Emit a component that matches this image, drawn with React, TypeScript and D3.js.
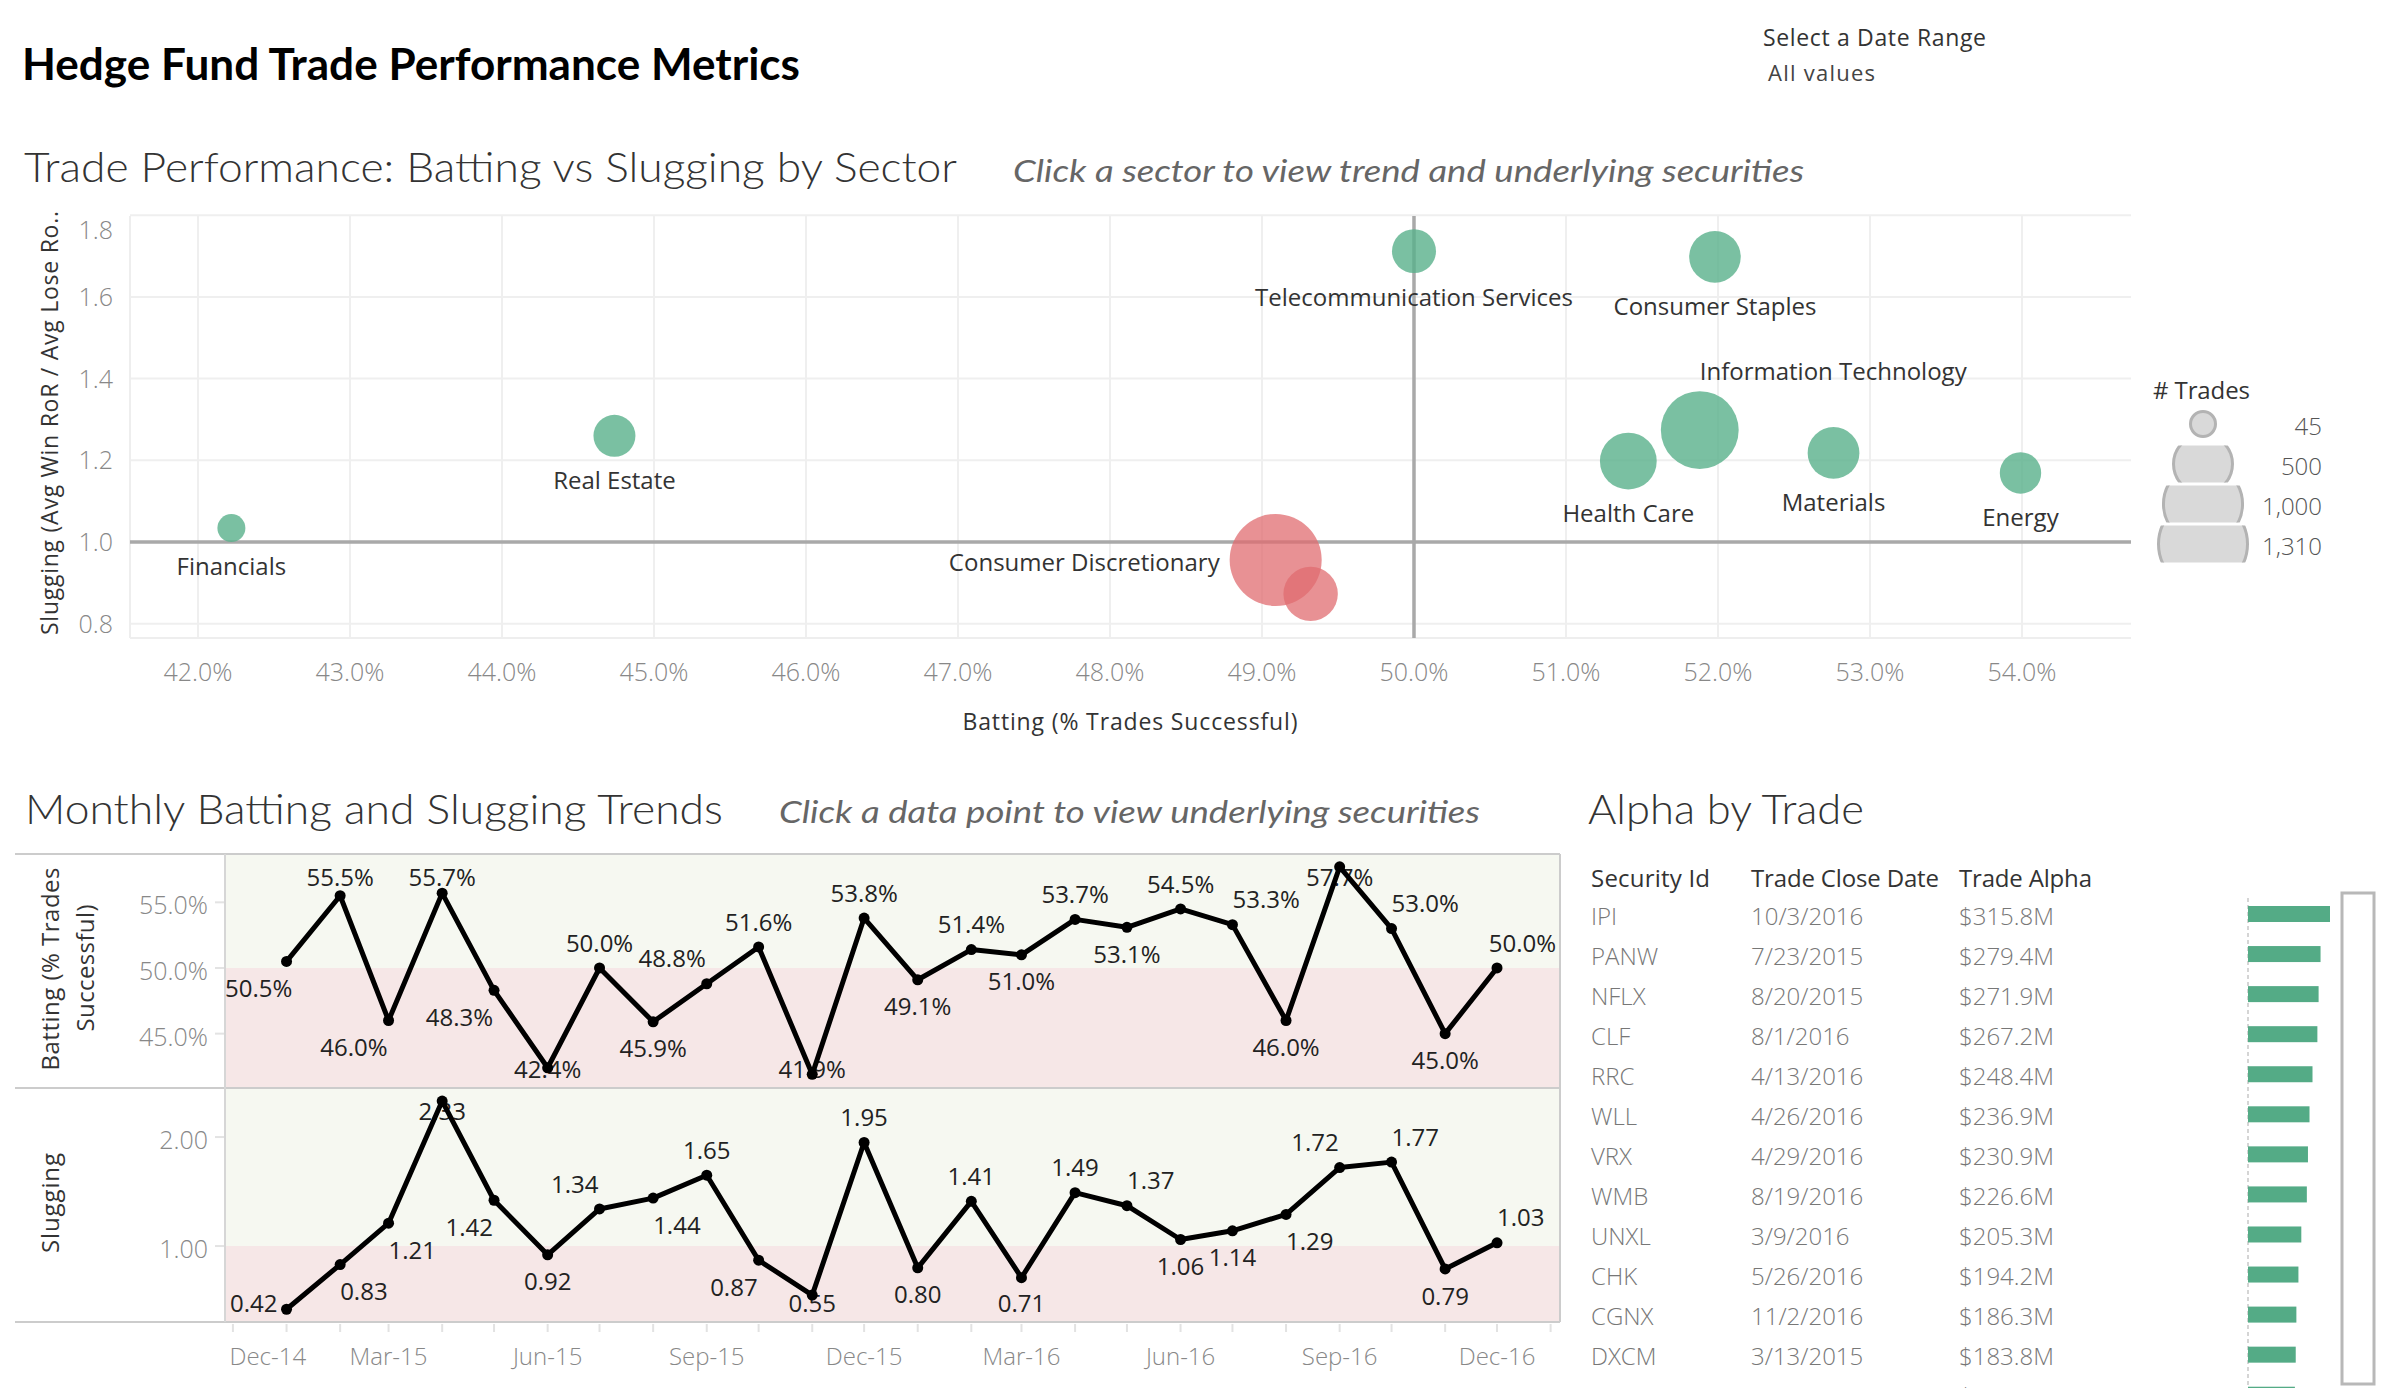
import React from 'react';
import * as d3 from 'd3';

// ---------------- DATA ----------------
const sectorNames = ['Financials', 'Real Estate', 'Telecommunication Services', 'Consumer Discretionary', 'Industrials', 'Consumer Staples', 'Information Technology', 'Health Care', 'Materials', 'Energy'];
const sectorBatting = [42.22, 44.74, 50.0, 49.09, 49.32, 51.98, 51.88, 51.41, 52.76, 53.99];
const sectorSlugging = [1.034, 1.26, 1.712, 0.956, 0.873, 1.698, 1.274, 1.198, 1.218, 1.169];
const sectorTrades = [45, 173, 198, 1310, 356, 309, 880, 399, 312, 166];
const sectorLabelPlacement = ['below', 'below', 'below', 'left', 'none', 'below', 'above-right', 'below', 'below', 'below'];

const battingTicks = [42, 43, 44, 45, 46, 47, 48, 49, 50, 51, 52, 53, 54];
const sluggingTicks = [0.8, 1.0, 1.2, 1.4, 1.6, 1.8];
const legendTrades = [45, 500, 1000, 1310];

const trendMonths = ['2015-01', '2015-02', '2015-03', '2015-04', '2015-05', '2015-06', '2015-07', '2015-08', '2015-09', '2015-10', '2015-11', '2015-12',
  '2016-01', '2016-02', '2016-03', '2016-04', '2016-05', '2016-06', '2016-07', '2016-08', '2016-09', '2016-10', '2016-11', '2016-12'];
const monthlyBatting = [50.5, 55.5, 46.0, 55.7, 48.3, 42.4, 50.0, 45.9, 48.8, 51.6, 41.9, 53.8, 49.1, 51.4, 51.0, 53.7, 53.1, 54.5, 53.3, 46.0, 57.7, 53.0, 45.0, 50.0];
const monthlySlugging = [0.42, 0.83, 1.21, 2.33, 1.42, 0.92, 1.34, 1.44, 1.65, 0.87, 0.55, 1.95, 0.80, 1.41, 0.71, 1.49, 1.37, 1.06, 1.14, 1.29, 1.72, 1.77, 0.79, 1.03];
const battingLabelPlacement = ['bl', 't', 'bl', 't', 'bl', 'b', 't', 'b', 'tl', 't', 'b', 't', 'b', 't', 'b', 't', 'b', 't', 'tr', 'b', 't', 'tr', 'b', 'tr'];
const sluggingLabelPlacement = ['bl', 'br', 'br', 't', 'bl', 'b', 'tl', 'br', 't', 'bl', 'b', 't', 'b', 't', 'b', 't', 'tr', 'b', 'b', 'br', 'tl', 'tr', 'b', 'tr'];
const battingAxisTicks = [45, 50, 55];
const sluggingAxisTicks = [1, 2];

const securityIds = ['IPI', 'PANW', 'NFLX', 'CLF', 'RRC', 'WLL', 'VRX', 'WMB', 'UNXL', 'CHK', 'CGNX', 'DXCM', 'T'];
const closeDates = ['10/3/2016', '7/23/2015', '8/20/2015', '8/1/2016', '4/13/2016', '4/26/2016', '4/29/2016', '8/19/2016', '3/9/2016', '5/26/2016', '11/2/2016', '3/13/2015', '3/4/2015'];
const tradeAlpha = [315.8, 279.4, 271.9, 267.2, 248.4, 236.9, 230.9, 226.6, 205.3, 194.2, 186.3, 183.8, 180.6];

// ---------------- STYLE ----------------
const FONT = "'Open Sans', 'Noto Sans', 'DejaVu Sans', sans-serif";
const TFONT = "Lato, 'Open Sans', sans-serif";
const GREEN = '#59b08b';
const RED = '#e06c70';

let _ctx: CanvasRenderingContext2D | null = null;
function textWidth(t: string, size: number, weight = 400, family = FONT) {
  if (!_ctx) _ctx = document.createElement('canvas').getContext('2d');
  if (!_ctx) return t.length * size * 0.55;
  _ctx.font = `${weight} ${size}px ${family}`;
  return _ctx.measureText(t).width;
}

function Scatter() {
  const x = d3.scaleLinear().domain([41.553, 54.717]).range([130, 2131]);
  const y = d3.scaleLinear().domain([0.765, 1.798]).range([638, 216]);
  const r = d3.scaleSqrt().domain([45, 1310]).range([14, 46]);
  const pts = sectorNames.map((n, i) => ({ name: n, bx: sectorBatting[i], sy: sectorSlugging[i], n: sectorTrades[i], place: sectorLabelPlacement[i] }));
  const drawOrder = [...pts].sort((a, b) => b.n - a.n);
  const pct = d3.format('.1f');
  return (
    <g>
      {battingTicks.map(t => <line key={'vx' + t} x1={x(t)} x2={x(t)} y1={216} y2={638} stroke="#efefef" strokeWidth={2} />)}
      {sluggingTicks.map(t => <line key={'hy' + t} x1={130} x2={2131} y1={y(t)} y2={y(t)} stroke="#efefef" strokeWidth={2} />)}
      <line x1={130} x2={130} y1={216} y2={638} stroke="#eeeeee" strokeWidth={2} />
      <line x1={130} x2={2131} y1={638} y2={638} stroke="#eeeeee" strokeWidth={2} />
      <line x1={130} x2={2131} y1={y(1)} y2={y(1)} stroke="#a9a9a9" strokeWidth={3.5} />
      <line x1={x(50)} x2={x(50)} y1={216} y2={638} stroke="#a9a9a9" strokeWidth={3.5} />
      {battingTicks.map(t => (
        <text key={'xl' + t} x={x(t)} y={672} dy="0.36em" textAnchor="middle" fontSize={25} fill="#888" fontFamily={FONT} fontWeight={300}>{pct(t)}%</text>
      ))}
      {sluggingTicks.map(t => (
        <text key={'yl' + t} x={113} y={Math.max(230, y(t))} dy="0.36em" textAnchor="end" fontSize={25} fill="#888" fontFamily={FONT} fontWeight={300}>{t.toFixed(1)}</text>
      ))}
      {drawOrder.map(p => (
        <circle key={p.name} cx={x(p.bx)} cy={y(p.sy)} r={r(p.n)} fill={p.sy >= 1 ? GREEN : RED} fillOpacity={p.sy >= 1 ? 0.8 : 0.75} />
      ))}
      {pts.map(p => {
        const cx = x(p.bx), cy = y(p.sy), rr = r(p.n);
        if (p.place === 'none') return null;
        let tx = cx, ty = cy + rr + 24, anchor: any = 'middle';
        if (p.place === 'left') { tx = cx - rr - 10; ty = cy + 2; anchor = 'end'; }
        if (p.place === 'above-right') { tx = cx; ty = cy - rr - 20; anchor = 'start'; }
        return <text key={'lab' + p.name} x={tx} y={ty} dy="0.36em" textAnchor={anchor} fontSize={24} fill="#333" fontFamily={FONT}>{p.name}</text>;
      })}
      <text x={1130} y={722} dy="0.36em" textAnchor="middle" fontSize={23} fill="#333" fontFamily={FONT} fontWeight={500} textLength={335}>Batting (% Trades Successful)</text>
      <text transform="translate(50,423) rotate(-90)" dy="0.36em" textAnchor="middle" fontSize={23} fill="#333" fontFamily={FONT} textLength={424}>Slugging (Avg Win RoR / Avg Lose Ro..</text>
      {/* size legend */}
      <text x={2153} y={390} dy="0.36em" fontSize={24} fill="#333" fontFamily={FONT} textLength={97}># Trades</text>
      <defs>
        {legendTrades.map((v, i) => (
          <clipPath key={'cp' + v} id={'leg' + i}>
            <rect x={2140} y={424 + i * 40 - 18.5} width={140} height={37} />
          </clipPath>
        ))}
      </defs>
      {legendTrades.map((v, i) => (
        <g key={'lg' + v}>
          <circle cx={2203} cy={424 + i * 40} r={r(v) - 1.5} fill="#d9d9d9" stroke="#b3b3b3" strokeWidth={3} clipPath={i === 0 ? undefined : `url(#leg${i})`} />
          <text x={2322} y={426 + i * 40} dy="0.36em" textAnchor="end" fontSize={24} fill="#555" fontFamily={FONT} fontWeight={300}>{d3.format(',')(v)}</text>
        </g>
      ))}
    </g>
  );
}

function Trends() {
  const L = 225, R = 1560, T1 = 854, B1 = 1088, T2 = 1088, B2 = 1322;
  const x = d3.scaleTime().domain([new Date(2014, 10, 26, 10), new Date(2017, 0, 6, 10)]).range([L, R]);
  const yB = d3.scaleLinear().domain([40.86, 58.68]).range([B1, T1]);
  const yS = d3.scaleLinear().domain([0.303, 2.45]).range([B2, T2]);
  const parse = d3.timeParse('%Y-%m');
  const dates = trendMonths.map(m => parse(m) as Date);
  const ticks = d3.timeMonth.range(new Date(2014, 11, 1), new Date(2017, 0, 2));
  const labTicks = ticks.filter((d, i) => i % 3 === 0 && d <= new Date(2016, 11, 1));
  const fmt = d3.timeFormat('%b-%y');

  const place = (px: number, py: number, code: string, text: string, top: number, bot: number) => {
    const w = textWidth(text, 24);
    const above = code[0] === 't';
    let cy = py + (above ? -25 : 27);
    let clamped = false;
    if (cy < top + 23.5) { cy = top + 23.5; clamped = true; }
    if (cy > bot - 18.5) { cy = bot - 18.5; clamped = true; }
    const extra = clamped ? 8 : 0;
    let cx = px;
    if (code[1] === 'l') cx = px - 1 - extra - w / 2;
    if (code[1] === 'r') cx = px + extra + w / 2;
    cx = Math.max(L + w / 2, Math.min(R - 4 - w / 2, cx));
    return { cx, cy };
  };

  const panel = (vals: number[], yScale: any, codes: string[], fmtV: (v: number) => string, top: number, bot: number, key: string) => {
    const line = d3.line<number>().x((_, i) => x(dates[i])).y(v => yScale(v));
    return (
      <g key={key}>
        {vals.map((v, i) => {
          const t = fmtV(v);
          const p = place(x(dates[i]), yScale(v), codes[i], t, top, bot);
          return <text key={key + 'l' + i} x={p.cx} y={p.cy} dy="0.36em" textAnchor="middle" fontSize={24} fill="#222" fontFamily={FONT}>{t}</text>;
        })}
        <path d={line(vals) || ''} fill="none" stroke="#000" strokeWidth={5} strokeLinejoin="round" />
        {vals.map((v, i) => <circle key={key + 'c' + i} cx={x(dates[i])} cy={yScale(v)} r={5.5} fill="#000" />)}
      </g>
    );
  };

  return (
    <g>
      <rect x={L} y={T1} width={R - L} height={yB(50) - T1} fill="#f6f8f1" />
      <rect x={L} y={yB(50)} width={R - L} height={B1 - yB(50)} fill="#f6e7e7" />
      <rect x={L} y={T2} width={R - L} height={yS(1) - T2} fill="#f6f8f1" />
      <rect x={L} y={yS(1)} width={R - L} height={B2 - yS(1)} fill="#f6e7e7" />
      {battingAxisTicks.map(t => (
        <g key={'bt' + t}>
          <line x1={215} x2={L} y1={yB(t)} y2={yB(t)} stroke="#e3e3e3" strokeWidth={2} />
          <text x={208} y={yB(t) + 3} dy="0.36em" textAnchor="end" fontSize={25} fill="#888" fontFamily={FONT} fontWeight={300}>{t.toFixed(1)}%</text>
        </g>
      ))}
      {sluggingAxisTicks.map(t => (
        <g key={'st' + t}>
          <line x1={215} x2={L} y1={yS(t)} y2={yS(t)} stroke="#e3e3e3" strokeWidth={2} />
          <text x={208} y={yS(t) + 3} dy="0.36em" textAnchor="end" fontSize={25} fill="#888" fontFamily={FONT} fontWeight={300}>{t.toFixed(2)}</text>
        </g>
      ))}
      {panel(monthlyBatting, yB, battingLabelPlacement, v => v.toFixed(1) + '%', T1, B1, 'bat')}
      {panel(monthlySlugging, yS, sluggingLabelPlacement, v => v.toFixed(2), T2, B2, 'slg')}
      {/* frame */}
      <line x1={15} x2={R} y1={T1} y2={T1} stroke="#cccccc" strokeWidth={2} />
      <line x1={15} x2={R} y1={B1} y2={B1} stroke="#cccccc" strokeWidth={2} />
      <line x1={15} x2={R} y1={B2} y2={B2} stroke="#cccccc" strokeWidth={2} />
      <line x1={L} x2={L} y1={T1} y2={B2} stroke="#d6d6d6" strokeWidth={2} />
      <line x1={R} x2={R} y1={T1} y2={B2} stroke="#cccccc" strokeWidth={2} />
      {ticks.map((d, i) => <line key={'tk' + i} x1={x(d)} x2={x(d)} y1={1324} y2={1332} stroke="#e2e2e2" strokeWidth={2} />)}
      {labTicks.map((d, i) => {
        const t = fmt(d);
        const w = textWidth(t, 24);
        const cx = Math.max(L + 4 + w / 2, x(d));
        return <text key={'xt' + i} x={cx} y={1356} dy="0.36em" textAnchor="middle" fontSize={24} fill="#888" fontFamily={FONT} fontWeight={300}>{t}</text>;
      })}
      <text transform="translate(50,969) rotate(-90)" dy="0.36em" textAnchor="middle" fontSize={24} fill="#333" fontFamily={FONT} textLength={203}>Batting (% Trades</text>
      <text transform="translate(85,968) rotate(-90)" dy="0.36em" textAnchor="middle" fontSize={24} fill="#333" fontFamily={FONT} textLength={127}>Successful)</text>
      <text transform="translate(50,1203) rotate(-90)" dy="0.36em" textAnchor="middle" fontSize={24} fill="#333" fontFamily={FONT} textLength={100}>Slugging</text>
    </g>
  );
}

function AlphaTable() {
  const bx = d3.scaleLinear().domain([0, 315.8]).range([2248, 2330]);
  const rowY = (i: number) => 916 + i * 40.06;
  return (
    <g>
      <defs>
        <clipPath id="tblclip"><rect x={1570} y={850} width={830} height={538} /></clipPath>
      </defs>
      <text x={1591} y={878} dy="0.36em" fontSize={24} fill="#333" fontFamily={FONT} fontWeight={500} textLength={119}>Security Id</text>
      <text x={1751} y={878} dy="0.36em" fontSize={24} fill="#333" fontFamily={FONT} fontWeight={500} textLength={188}>Trade Close Date</text>
      <text x={1959} y={878} dy="0.36em" fontSize={24} fill="#333" fontFamily={FONT} fontWeight={500} textLength={133}>Trade Alpha</text>
      <line x1={2248} x2={2248} y1={898} y2={1385} stroke="#c8c8c8" strokeWidth={1.5} strokeDasharray="4 3" />
      <g clipPath="url(#tblclip)">
        {securityIds.map((s, i) => (
          <g key={s}>
            <text x={1591} y={rowY(i)} dy="0.36em" fontSize={24} fill="#777" fontFamily={FONT} fontWeight={300}>{s}</text>
            <text x={1751} y={rowY(i)} dy="0.36em" fontSize={24} fill="#777" fontFamily={FONT} fontWeight={300}>{closeDates[i]}</text>
            <text x={1959} y={rowY(i)} dy="0.36em" fontSize={24} fill="#777" fontFamily={FONT} fontWeight={300}>${tradeAlpha[i].toFixed(1)}M</text>
            <rect x={bx(0)} y={rowY(i) - 10} width={bx(tradeAlpha[i]) - bx(0)} height={16} fill="#54ab86" />
          </g>
        ))}
      </g>
      <rect x={2342} y={893} width={32} height={491} fill="#fff" stroke="#b8b8b8" strokeWidth={3} />
    </g>
  );
}

export default function App() {
  return (
    <svg width={2400} height={1400} viewBox="0 0 2400 1400" style={{ position: 'absolute', left: 0, top: 0, background: '#fff' }}>
      <rect x={0} y={0} width={2400} height={1400} fill="#fff" />
      <text x={22} y={80} fontSize={44} fontWeight={700} fill="#000" fontFamily={TFONT} textLength={778} lengthAdjust="spacingAndGlyphs">Hedge Fund Trade Performance Metrics</text>
      <text x={1763} y={46} fontSize={23} fontWeight={500} fill="#333" fontFamily={FONT} textLength={223}>Select a Date Range</text>
      <text x={1768} y={81} fontSize={22} fill="#444" fontFamily={FONT} fontWeight={400} textLength={107}>All values</text>
      <text x={24} y={182} fontSize={41} fontWeight={300} fill="#333" fontFamily={TFONT} textLength={933} lengthAdjust="spacingAndGlyphs">Trade Performance: Batting vs Slugging by Sector</text>
      <text x={1013} y={182} fontSize={31} fontStyle="italic" fill="#666" fontFamily={TFONT} textLength={791} lengthAdjust="spacingAndGlyphs">Click a sector to view trend and underlying securities</text>
      <text x={25} y={824} fontSize={41} fontWeight={300} fill="#333" fontFamily={TFONT} textLength={698} lengthAdjust="spacingAndGlyphs">Monthly Batting and Slugging Trends</text>
      <text x={779} y={823} fontSize={31} fontStyle="italic" fill="#666" fontFamily={TFONT} textLength={701} lengthAdjust="spacingAndGlyphs">Click a data point to view underlying securities</text>
      <text x={1588} y={824} fontSize={41} fontWeight={300} fill="#333" fontFamily={TFONT} textLength={276} lengthAdjust="spacingAndGlyphs">Alpha by Trade</text>
      <Scatter />
      <Trends />
      <AlphaTable />
    </svg>
  );
}
